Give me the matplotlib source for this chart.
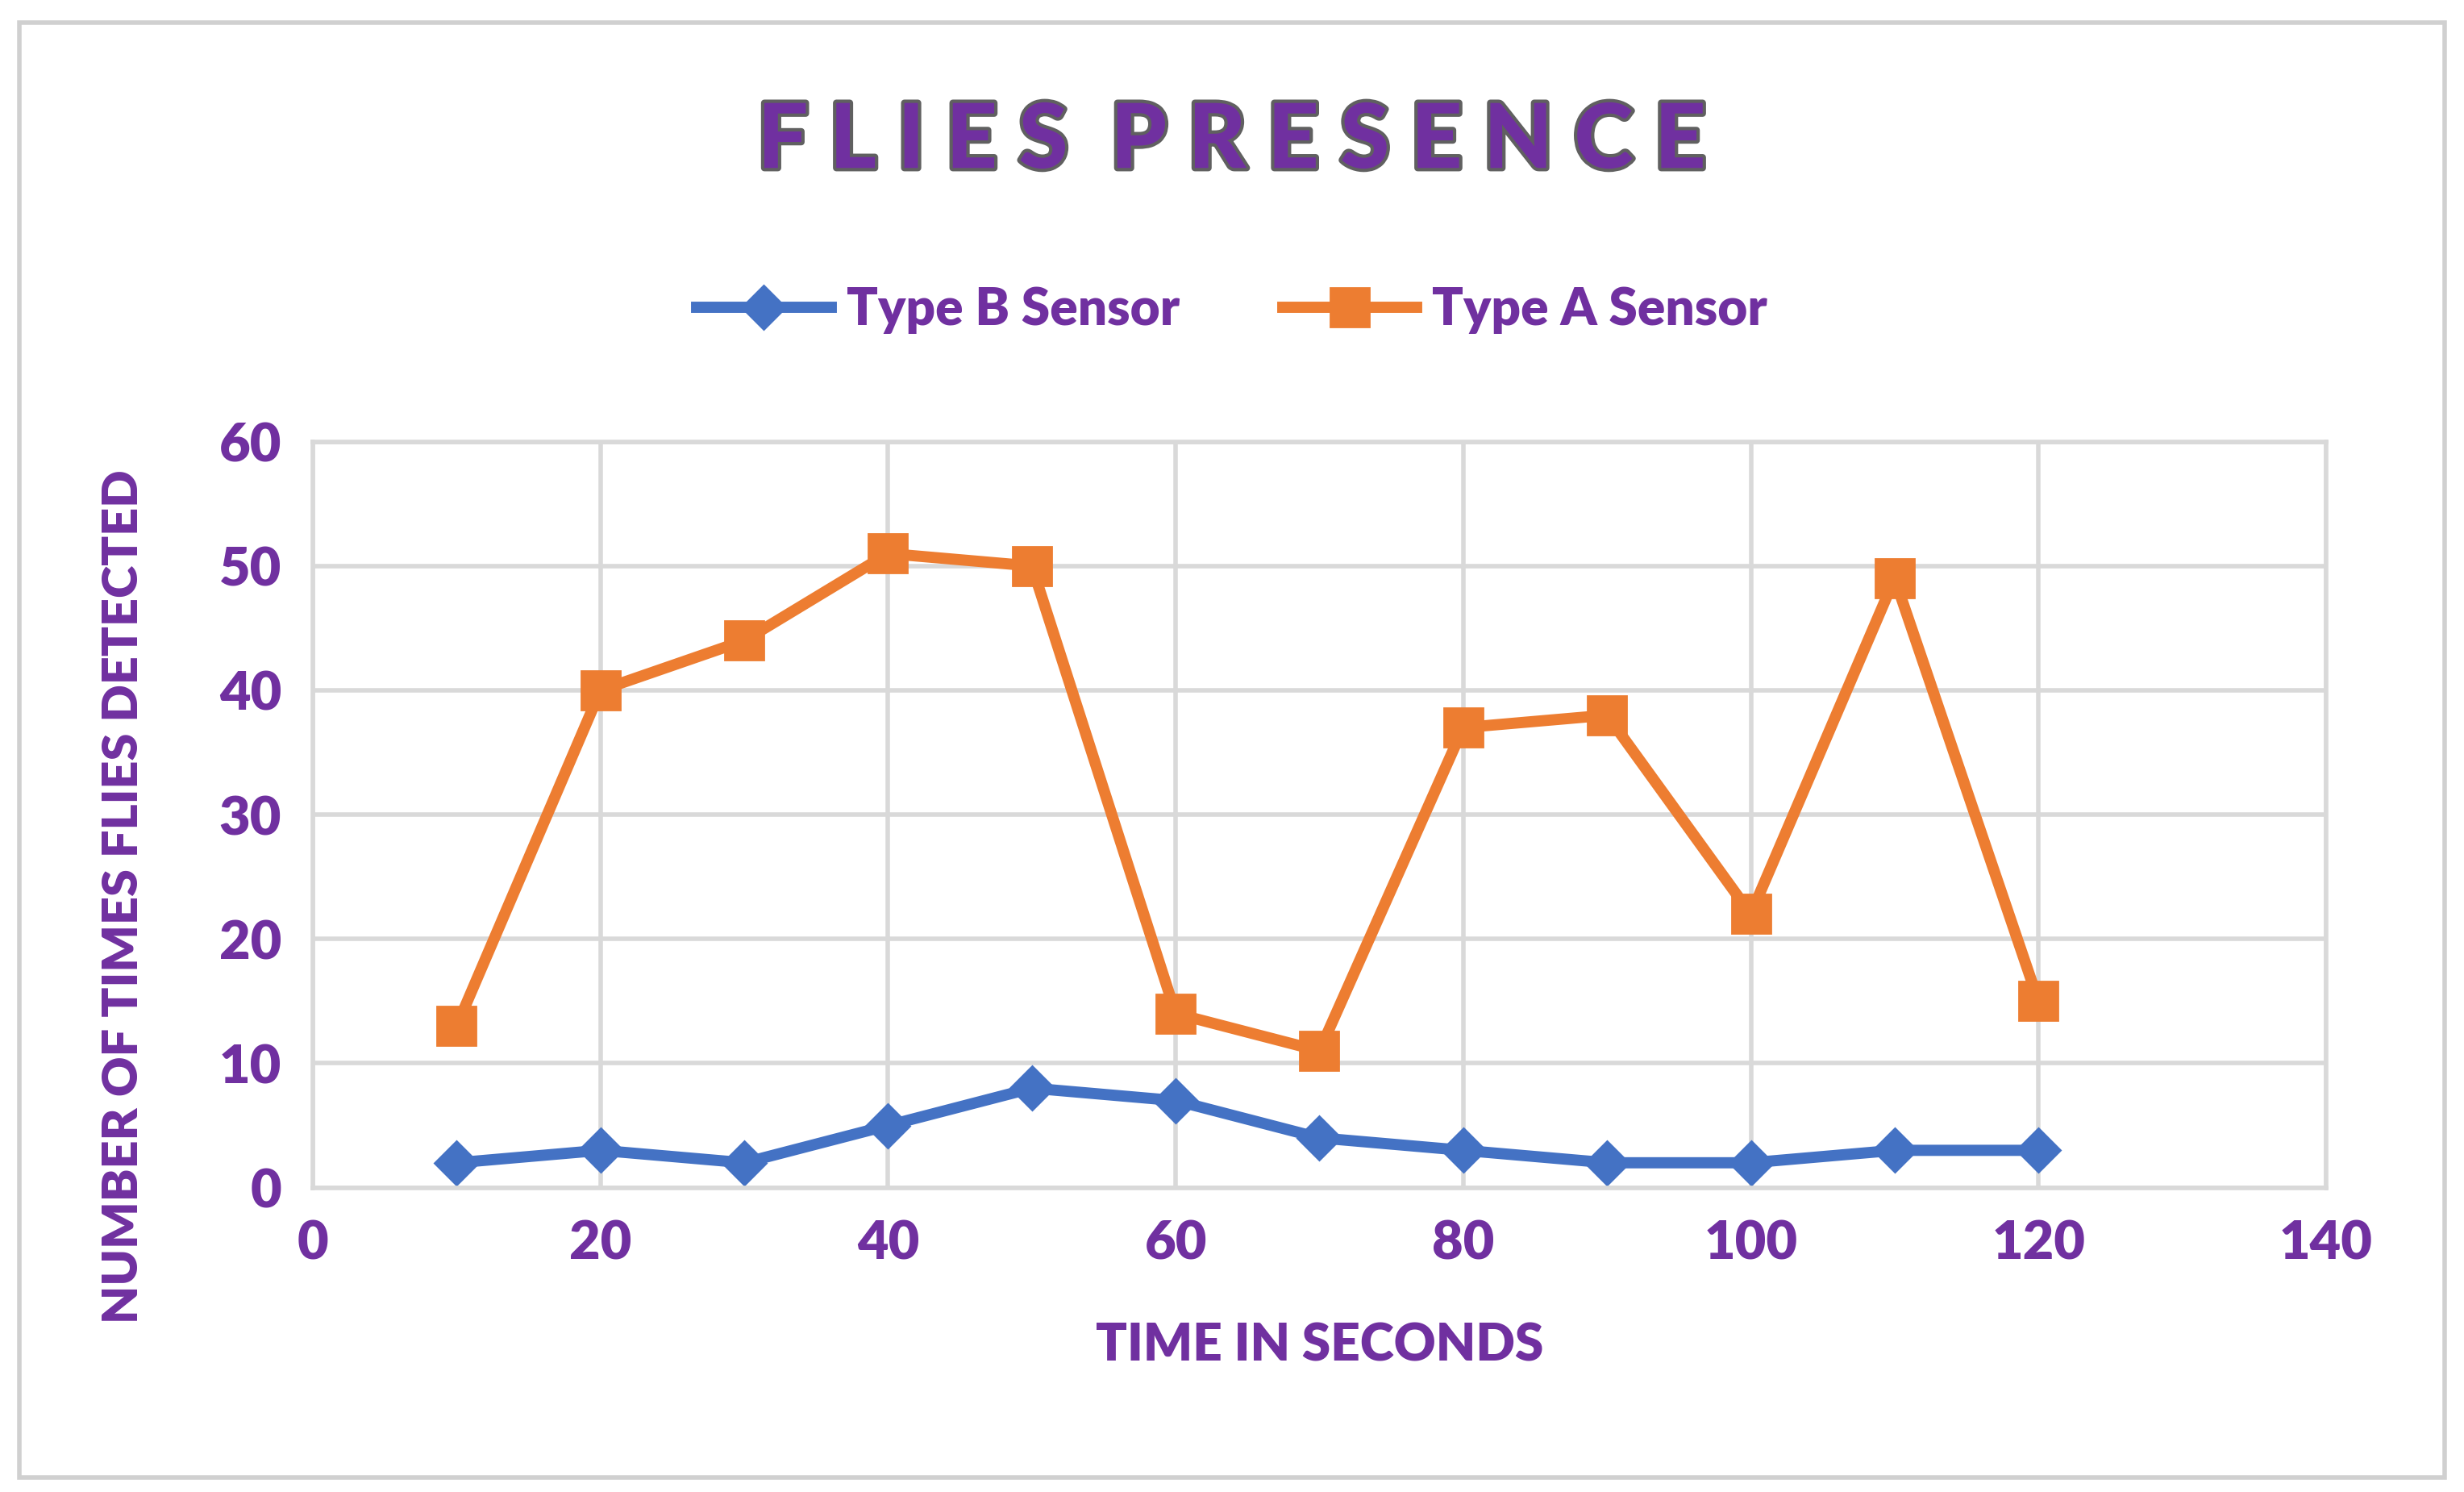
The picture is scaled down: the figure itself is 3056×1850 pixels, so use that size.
import matplotlib
matplotlib.use("Agg")
import matplotlib.pyplot as plt
import matplotlib.patheffects as pe
from matplotlib.patches import Rectangle

time_s = [10, 20, 30, 40, 50, 60, 70, 80, 90, 100, 110, 120]
type_b = [2, 3, 2, 5, 8, 7, 4, 3, 2, 2, 3, 3]
type_a = [13, 40, 44, 51, 50, 14, 11, 37, 38, 22, 49, 15]
xticks = [0, 20, 40, 60, 80, 100, 120, 140]
yticks = [0, 10, 20, 30, 40, 50, 60]

purple = "#7030A0"
plt.rcParams['font.family'] = ['Lato', 'DejaVu Sans']
fig = plt.figure(figsize=(15.28, 9.25), dpi=200)
fig.patches.append(Rectangle((0.008, 0.01), 0.984, 0.975, transform=fig.transFigure,
                             fill=False, edgecolor="#d0d0d0", lw=2))
ax = fig.add_axes([0.127, 0.204, 0.817, 0.5])
ax.plot(time_s, type_b, color="#4472C4", lw=5, marker="D", ms=14, label="Type B Sensor")
ax.plot(time_s, type_a, color="#ED7D31", lw=5, marker="s", ms=17, label="Type A Sensor")
ax.set_xlim(0, 140); ax.set_ylim(0, 60)
ax.set_xticks(xticks); ax.set_yticks(yticks)
ax.grid(True, color="#d9d9d9", lw=2)
for s in ax.spines.values():
    s.set_color("#d9d9d9"); s.set_linewidth(2)
ax.tick_params(length=0, labelsize=24, labelcolor=purple, pad=14)
for t in ax.get_xticklabels() + ax.get_yticklabels():
    t.set_fontweight("heavy")
ax.set_xlabel("TIME IN SECONDS", fontsize=23, color=purple, fontweight="heavy", labelpad=24)
ax.set_ylabel("NUMBER OF TIMES FLIES DETECTED", fontsize=22, color=purple, fontweight="heavy")
ax.yaxis.set_label_coords(-0.083, 0.39)
fig.text(0.5, 0.905, "F L I E S  P R E S E N C E", ha="center", va="center",
         fontsize=40, fontweight="black", color=purple,
         path_effects=[pe.withStroke(linewidth=3, foreground="#606060")])
leg = fig.legend(loc="center", bbox_to_anchor=(0.5, 0.792), ncol=2, frameon=False,
                 fontsize=23, handlelength=2.6, handletextpad=0.3, columnspacing=2.0)
for t in leg.get_texts():
    t.set_color(purple); t.set_fontweight("heavy")
fig.savefig("out.png", dpi=200)
